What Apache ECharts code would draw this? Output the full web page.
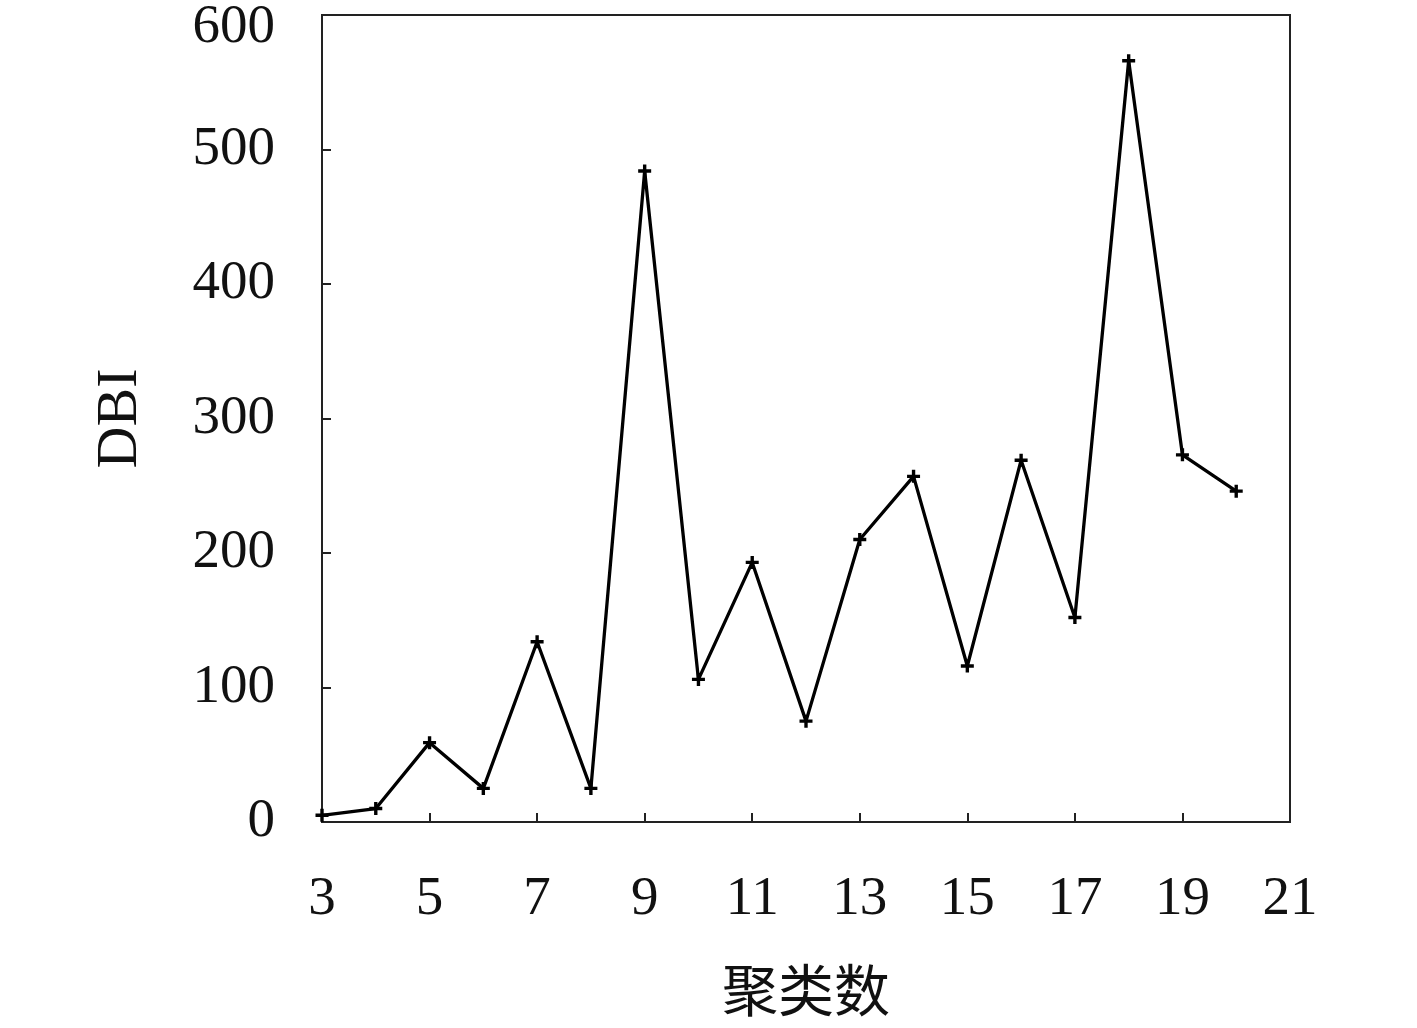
<!DOCTYPE html>
<html>
<head>
<meta charset="utf-8">
<script src="https://cdn.jsdelivr.net/npm/echarts@6/dist/echarts.min.js"></script>
<style>
html,body{margin:0;padding:0;background:#fff;}
#chart{width:1417px;height:1028px;}
</style>
</head>
<body>
<div id="chart"></div>
<script>
var clusterCounts = [3,4,5,6,7,8,9,10,11,12,13,14,15,16,17,18,19,20];
var dbiValues = [5,10,59,25,134,25,484,106,193,75,210,257,116,269,152,566,273,246];
var xTickValues = [3,5,7,9,11,13,15,17,19,21];
var yTickValues = [0,100,200,300,400,500,600];
var xAxisTitle = '聚类数';
var yAxisTitle = 'DBI';

var points = clusterCounts.map(function(c,i){return [c, dbiValues[i]];});
var serif = '"Liberation Serif","DejaVu Serif",serif';
var cjk = '"Noto Sans CJK SC",serif';
var yMax = yTickValues[yTickValues.length-1];

var chart = echarts.init(document.getElementById('chart'));
chart.setOption({
  backgroundColor:'#fff',
  animation:false,
  grid:{left:322,top:15,right:127,bottom:206,containLabel:false,outerBoundsMode:'none',
        show:true,borderColor:'#222',borderWidth:2,backgroundColor:'transparent'},
  xAxis:{
    type:'value',min:xTickValues[0],max:xTickValues[xTickValues.length-1],interval:2,
    name:xAxisTitle,nameLocation:'middle',nameGap:140,
    nameTextStyle:{fontFamily:cjk,fontSize:56,color:'#111'},
    axisLine:{show:true,lineStyle:{color:'#222',width:2}},
    axisTick:{show:true,inside:true,length:9,lineStyle:{color:'#222',width:2}},
    axisLabel:{margin:50,fontFamily:serif,fontSize:55,color:'#111'},
    splitLine:{show:false}
  },
  yAxis:{
    type:'value',min:yTickValues[0],max:yMax,interval:100,
    name:yAxisTitle,nameLocation:'middle',nameGap:172,
    nameTextStyle:{fontFamily:serif,fontSize:58,color:'#111'},
    axisLine:{show:true,lineStyle:{color:'#222',width:2}},
    axisTick:{show:true,inside:true,length:9,lineStyle:{color:'#222',width:2}},
    axisLabel:{margin:47,fontFamily:serif,fontSize:55,color:'#111',
      formatter:function(v){return v===yMax ? '{top|'+v+'}' : String(v);},
      rich:{top:{fontFamily:serif,fontSize:55,color:'#111',padding:[26,0,0,0]}}
    },
    splitLine:{show:false}
  },
  series:[{
    type:'line',
    data:points,
    lineStyle:{color:'#000',width:3.3},
    symbol:'path://M3.7,0 L6.3,0 L6.3,3.7 L10,3.7 L10,6.3 L6.3,6.3 L6.3,10 L3.7,10 L3.7,6.3 L0,6.3 L0,3.7 L3.7,3.7 Z',
    symbolSize:13,
    showSymbol:true,
    itemStyle:{color:'#000',borderWidth:0},
    emphasis:{disabled:true}
  }]
});
</script>
</body>
</html>
